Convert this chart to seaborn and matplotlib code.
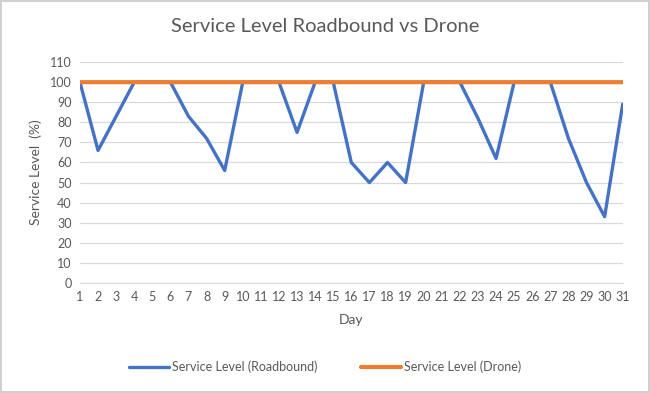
import matplotlib.pyplot as plt
import seaborn as sns

days = list(range(1, 32))
roadbound = [100, 66, 83, 100, 100, 100, 83, 72, 56, 100,
             100, 100, 75, 100, 100, 60, 50, 60, 50, 100,
             100, 100, 82, 62, 100, 100, 100, 72, 50, 33, 89]
drone = [100] * 31
series_names = ['Service Level (Roadbound)', 'Service Level (Drone)']
y_ticks = list(range(0, 111, 10))

sns.set_style('white')
plt.rcParams['font.family'] = ['Lato', 'DejaVu Sans']
text_color = '#595959'

fig = plt.figure(figsize=(6.5, 3.93), dpi=100)
fig.patch.set_edgecolor('#d0d0d0')
fig.patch.set_linewidth(1.5)
ax = fig.add_axes([0.123, 0.280, 0.835, 0.562])

sns.lineplot(x=days, y=roadbound, color='#4472C4', linewidth=2.4,
             label=series_names[0], ax=ax)
sns.lineplot(x=days, y=drone, color='#ED7D31', linewidth=3.0,
             label=series_names[1], ax=ax)
# drone line sits on top of the roadbound one at 100 (no pixel snapping,
# otherwise the blue peeks out half a pixel)
ax.lines[0].set_zorder(3)
ax.lines[1].set_zorder(4)
ax.lines[1].set_snap(False)

ax.set_xlim(1, 31)
ax.set_ylim(0, 110)
ax.set_xticks(days)
ax.set_yticks(y_ticks)
ax.tick_params(axis='both', length=0, labelsize=9, colors=text_color, pad=6)
ax.grid(axis='y', color='#d9d9d9', linewidth=0.9)
for s in ['top', 'right', 'left']:
    ax.spines[s].set_visible(False)
ax.spines['bottom'].set_color('#d9d9d9')
ax.set_axisbelow(True)

ax.set_xlabel('Day', fontsize=10, color=text_color, labelpad=8)
ax.set_ylabel('Service Level  (%)', fontsize=10, color=text_color, labelpad=6)
fig.suptitle('Service Level Roadbound vs Drone', fontsize=14.5,
             color=text_color, y=0.955)

ax.legend(loc='center', bbox_to_anchor=(0.5, 0.066), bbox_transform=fig.transFigure,
          ncol=2, frameon=False, fontsize=9, labelcolor=text_color,
          handlelength=3.2, handletextpad=0.2, columnspacing=3.5)

fig.savefig('out.png', dpi=100)
